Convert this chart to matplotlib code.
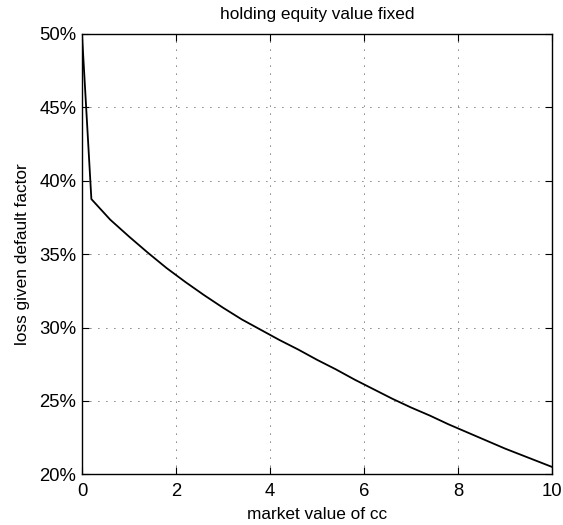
import matplotlib
matplotlib.use("Agg")
import matplotlib.pyplot as plt
from matplotlib.ticker import FuncFormatter

plt.rcParams['font.family'] = ['Liberation Sans', 'DejaVu Sans']

market_value = [0.0, 0.2, 0.6, 1.0, 1.4, 1.8, 2.2, 2.6, 3.0, 3.4, 3.8, 4.2, 4.6,
                5.0, 5.4, 5.8, 6.2, 6.6, 7.0, 7.4, 7.8, 8.2, 8.6, 9.0, 9.4, 9.8, 10.0]
lgd_factor = [50.0, 38.75, 37.35, 36.2, 35.1, 34.05, 33.1, 32.2, 31.35, 30.55, 29.85,
              29.15, 28.5, 27.8, 27.15, 26.45, 25.8, 25.15, 24.55, 24.0, 23.4, 22.85,
              22.3, 21.75, 21.25, 20.75, 20.5]
x_ticks = [0, 2, 4, 6, 8, 10]
y_ticks = [20, 25, 30, 35, 40, 45, 50]

fig = plt.figure(figsize=(5.63, 5.25), dpi=100)
ax = fig.add_axes([0.1456, 0.0966, 0.835, 0.8387])

ax.plot(market_value, lgd_factor, color='black', linewidth=1.3)

ax.set_xlim(0, 10)
ax.set_ylim(20, 50)
ax.set_xticks(x_ticks)
ax.set_yticks(y_ticks)
ax.yaxis.set_major_formatter(FuncFormatter(lambda v, p: f"{v:.0f}%"))

ax.grid(True, color='black', linestyle=(0, (1, 8.6)), linewidth=0.6)
ax.tick_params(direction='in', top=True, right=True, length=5, width=0.8,
               labelsize=13.3, colors='black')
ax.tick_params(axis='x', pad=6)
ax.tick_params(axis='y', pad=4)
for s in ax.spines.values():
    s.set_linewidth(1.0)

ax.set_title("holding equity value fixed", fontsize=12.4, pad=11)
ax.set_xlabel("market value of cc", fontsize=12.4, labelpad=5)
ax.set_ylabel("loss given default factor", fontsize=12.4, labelpad=7)

fig.savefig("out.png", dpi=100, facecolor='white')
